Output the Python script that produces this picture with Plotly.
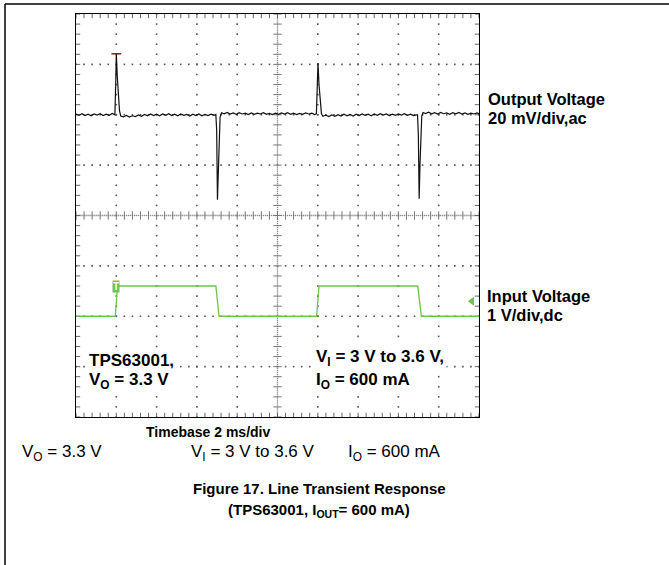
import numpy as np
import plotly.graph_objects as go

W, H = 669, 565

# ---------------- data (time in ms, 2 ms/div) ----------------
out_t = [0.00, 0.15, 0.30, 0.45, 0.60, 0.75, 0.90, 1.05, 1.20, 1.35, 1.50, 1.65, 1.80, 1.93,
         1.97, 2.00, 2.05, 2.10, 2.16, 2.22,
         2.35, 2.50, 2.65, 2.80, 2.95, 3.10, 3.25, 3.40, 3.55, 3.70, 3.85, 4.00, 4.15, 4.30,
         4.45, 4.60, 4.75, 4.90, 5.05, 5.20, 5.35, 5.50, 5.65, 5.80, 5.95, 6.10, 6.25, 6.40,
         6.55, 6.70, 6.85, 6.94,
         6.98, 7.02, 7.06, 7.10, 7.15, 7.22,
         7.35, 7.50, 7.65, 7.80, 7.95, 8.10, 8.25, 8.40, 8.55, 8.70, 8.85, 9.00, 9.15, 9.30,
         9.45, 9.60, 9.75, 9.90, 10.05, 10.20, 10.35, 10.50, 10.65, 10.80, 10.95, 11.10,
         11.25, 11.40, 11.55, 11.70, 11.85, 11.93,
         11.97, 12.01, 12.06, 12.12, 12.18, 12.25,
         12.40, 12.55, 12.70, 12.85, 13.00, 13.15, 13.30, 13.45, 13.60, 13.75, 13.90, 14.05,
         14.20, 14.35, 14.50, 14.65, 14.80, 14.95, 15.10, 15.25, 15.40, 15.55, 15.70, 15.85,
         16.00, 16.15, 16.30, 16.45, 16.60, 16.75, 16.90, 16.95,
         16.99, 17.03, 17.07, 17.11, 17.16, 17.22,
         17.35, 17.50, 17.65, 17.80, 17.95, 18.10, 18.25, 18.40, 18.55, 18.70, 18.85, 19.00,
         19.15, 19.30, 19.45, 19.60, 19.75, 19.90, 20.00]
# output voltage, mV (ac coupled, 20 mV/div)
out_mv = [0.3, -0.2, 0.4, -0.3, 0.2, -0.4, 0.3, -0.1, 0.4, -0.3, 0.2, -0.2, 0.5, 0.0,
          12.0, 24.2, 15.0, 6.0, 1.5, -0.5,
          -0.8, -0.3, -0.9, -0.4, -0.7, -0.1, -0.6, 0.1, -0.4, 0.3, -0.3, 0.2, -0.4, 0.3,
          -0.2, 0.4, -0.3, 0.2, -0.4, 0.3, -0.2, 0.1, -0.5, 0.2, -0.3, 0.3, -0.4, 0.1,
          -0.3, 0.2, -0.2, 0.1,
          -6.0, -33.7, -22.0, -8.0, -1.0, 0.8,
          0.4, 0.9, 0.3, 0.7, 0.2, 0.8, 0.3, 0.6, 0.1, 0.7, 0.2, 0.6, 0.3, 0.8,
          0.2, 0.5, 0.1, 0.6, 0.2, 0.7, 0.3, 0.8, 0.2, 0.6, 0.1, 0.5,
          0.2, 0.7, 0.3, 0.6, 0.1, 0.4,
          10.0, 20.5, 12.0, 4.0, 0.5, -0.6,
          -0.2, -0.7, -0.1, -0.6, 0.0, -0.5, 0.2, -0.4, 0.1, -0.5, 0.2, -0.3,
          0.3, -0.2, 0.2, -0.4, 0.3, -0.2, 0.4, -0.1, 0.3, -0.3, 0.2, -0.2,
          0.3, -0.1, 0.4, -0.2, 0.2, -0.3, 0.1, 0.0,
          -8.0, -33.3, -20.0, -6.0, -0.5, 0.9,
          0.5, 1.0, 0.4, 0.8, 0.3, 0.9, 0.4, 0.7, 0.2, 0.8, 0.4, 0.9,
          0.3, 0.7, 0.2, 0.6, 0.3, 0.7, 0.4]

# input voltage, V (dc coupled, 1 V/div)
in_t = [0.0, 1.95, 2.06, 6.94, 7.10, 11.94, 12.06, 16.96, 17.14, 20.0]
in_v = [3.0, 3.0, 3.6, 3.6, 3.0, 3.0, 3.6, 3.6, 3.0, 3.0]
trigger_level_v = 3.3
trigger_marker_t = 19.65

# scope screen scales
t_range = [0, 20]          # 10 div x 2 ms
out_range = [-120, 40]     # 8 div x 20 mV
in_range = [1, 9]          # 8 div x 1 V
t_major, t_minor = 2.0, 0.4
out_major, out_minor = 20.0, 4.0

GREEN = "#6fc24b"
FONT = "Liberation Sans, Arial, Helvetica, sans-serif"

fig = go.Figure()

# ---------------- graticule ----------------
tM = np.arange(t_range[0], t_range[1] + 1e-9, t_major)
tm = np.arange(t_range[0], t_range[1] + 1e-9, t_minor)
yM = np.arange(out_range[0], out_range[1] + 1e-9, out_major)
ym = np.arange(out_range[0], out_range[1] + 1e-9, out_minor)
t_center = (t_range[0] + t_range[1]) / 2
y_center = (out_range[0] + out_range[1]) / 2

gx, gy = [], []
for y in yM[1:-1]:
    if abs(y - y_center) < 1e-9:
        continue
    gx += list(tm); gy += [y] * len(tm)
for x in tM[1:-1]:
    if abs(x - t_center) < 1e-9:
        continue
    gx += [x] * len(ym); gy += list(ym)
fig.add_trace(go.Scatter(x=gx, y=gy, mode="markers", hoverinfo="skip",
                         marker=dict(symbol="square", size=1.6, color="#555555")))

# centre cross lines (fine dotted)
fine_t = np.arange(t_range[0], t_range[1] + 1e-9, t_minor / 4)
fine_y = np.arange(out_range[0], out_range[1] + 1e-9, out_minor / 5)
fig.add_trace(go.Scatter(x=list(fine_t), y=[y_center] * len(fine_t), mode="markers",
                         hoverinfo="skip",
                         marker=dict(symbol="square", size=1.3, color="#888888")))
fig.add_trace(go.Scatter(x=[t_center] * len(fine_y), y=list(fine_y), mode="markers",
                         hoverinfo="skip",
                         marker=dict(symbol="square", size=1.3, color="#888888")))
# centre cross ticks
fig.add_trace(go.Scatter(x=list(tm), y=[y_center] * len(tm), mode="markers", hoverinfo="skip",
                         marker=dict(symbol="line-ns", size=6, line=dict(width=1, color="#777777"))))
fig.add_trace(go.Scatter(x=[t_center] * len(ym), y=list(ym), mode="markers", hoverinfo="skip",
                         marker=dict(symbol="line-ew", size=6, line=dict(width=1, color="#777777"))))
# edge ticks
edge_x = list(tm) * 2
edge_y = [out_range[1]] * len(tm) + [out_range[0]] * len(tm)
fig.add_trace(go.Scatter(x=edge_x, y=edge_y, mode="markers", hoverinfo="skip",
                         marker=dict(symbol="line-ns", size=6, line=dict(width=1, color="#666666"))))
edge_x2 = [t_range[0]] * len(ym) + [t_range[1]] * len(ym)
edge_y2 = list(ym) * 2
fig.add_trace(go.Scatter(x=edge_x2, y=edge_y2, mode="markers", hoverinfo="skip",
                         marker=dict(symbol="line-ew", size=6, line=dict(width=1, color="#666666"))))

# ---------------- traces ----------------
fig.add_trace(go.Scatter(x=in_t, y=in_v, yaxis="y2", mode="lines", hoverinfo="skip",
                         line=dict(color=GREEN, width=1.3)))
fig.add_trace(go.Scatter(x=out_t, y=out_mv, mode="lines", hoverinfo="skip",
                         line=dict(color="#111111", width=1.2)))
ipk = int(np.argmax(out_mv))
fig.add_trace(go.Scatter(x=[out_t[ipk]], y=[out_mv[ipk]], mode="markers", hoverinfo="skip",
                         marker=dict(symbol="line-ew", size=7,
                                     line=dict(width=1.5, color="#8b1a1a"))))
# trigger level arrow
fig.add_trace(go.Scatter(x=[trigger_marker_t], y=[trigger_level_v], yaxis="y2", mode="markers",
                         hoverinfo="skip",
                         marker=dict(symbol="triangle-left", size=8, color=GREEN)))

annotations = []
# trigger "T" marker
annotations.append(dict(x=(in_t[1] + in_t[2]) / 2, y=in_v[2], xref="x", yref="y2",
                        text="<b>T</b>", showarrow=False, bgcolor=GREEN,
                        font=dict(family=FONT, size=10, color="white"),
                        borderpad=0, xanchor="center", yanchor="middle"))


def px(xp):
    return xp / W


def py(yp):
    return 1 - yp / H


def label(x, y, text, size, family=FONT, xanchor="left", bg=None, color="black"):
    d = dict(x=px(x), y=py(y), xref="paper", yref="paper", text=text, showarrow=False,
             xanchor=xanchor, yanchor="middle", font=dict(family=family, size=size, color=color))
    if bg:
        d.update(bgcolor=bg, borderpad=2)
    annotations.append(d)


label(486, 99, "<b>Output Voltage</b>", 16.5)
label(486, 118, "<b>20 mV/div,ac</b>", 16.5)
label(485, 296, "<b>Input Voltage</b>", 16.5)
label(485, 315, "<b>1 V/div,dc</b>", 16.5)

label(86, 361, "<b>TPS63001,</b>", 17, bg="white")
label(86, 381, "<b>V<sub>O</sub> = 3.3 V</b>", 17, bg="white")
label(313, 358, "<b>V<sub>I</sub> = 3 V to 3.6 V,</b>", 17, bg="white")
label(313, 381, "<b>I<sub>O</sub> = 600 mA</b>", 17, bg="white")

label(208, 432, "<b>Timebase 2 ms/div</b>", 14, xanchor="center")
label(20, 453, "V<sub>O</sub> = 3.3 V", 17)
label(189, 453, "V<sub>I</sub> = 3 V to 3.6 V", 17)
label(346, 453, "I<sub>O</sub> = 600 mA", 17)
label(319, 489, "<b>Figure 17. Line Transient Response</b>", 15, xanchor="center")
label(319, 510, "<b>(TPS63001, I<sub>OUT</sub>= 600 mA)</b>", 15, xanchor="center")

shapes = [
    dict(type="line", xref="paper", yref="paper", x0=px(5), x1=1, y0=py(4), y1=py(4),
         line=dict(color="black", width=1.5)),
    dict(type="line", xref="paper", yref="paper", x0=px(5), x1=px(5), y0=py(4), y1=0,
         line=dict(color="black", width=1.5)),
]

axis_common = dict(showgrid=False, zeroline=False, showticklabels=False, ticks="",
                   showline=True, mirror=True, linecolor="black", linewidth=1, fixedrange=True)

fig.update_layout(
    width=W, height=H, autosize=False,
    margin=dict(l=0, r=0, t=0, b=0),
    paper_bgcolor="white", plot_bgcolor="white",
    showlegend=False,
    xaxis=dict(range=t_range, domain=[px(76), px(479)], **axis_common),
    yaxis=dict(range=out_range, domain=[py(417), py(14)], **axis_common),
    yaxis2=dict(range=in_range, overlaying="y", visible=False, fixedrange=True),
    annotations=annotations,
    shapes=shapes,
)

fig.write_html("out.html",
               config={"displayModeBar": False, "staticPlot": True},
               post_script="document.body.style.margin='0px';"
                           "document.body.style.overflow='hidden';")
